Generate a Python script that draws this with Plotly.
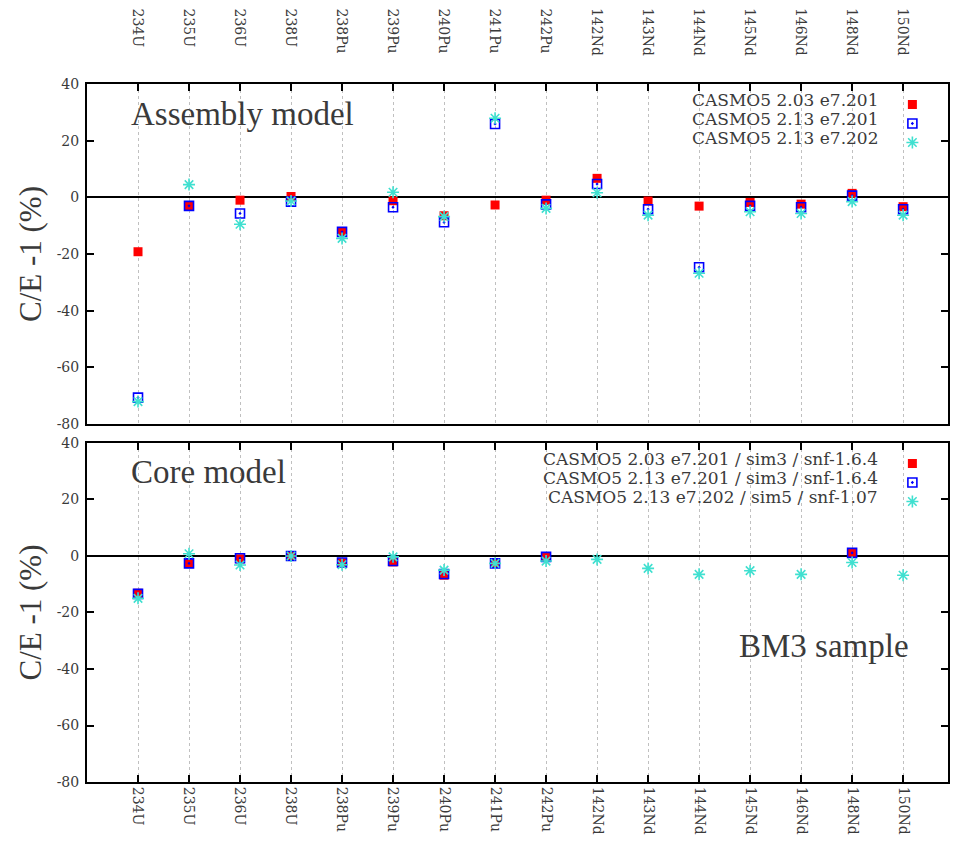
import plotly.graph_objects as go

isotopes = ["234U", "235U", "236U", "238U", "238Pu", "239Pu", "240Pu", "241Pu",
            "242Pu", "142Nd", "143Nd", "144Nd", "145Nd", "146Nd", "148Nd", "150Nd"]
xpos = list(range(len(isotopes)))

# Assembly model (top panel)
asm_names = ["CASMO5 2.03 e7.201", "CASMO5 2.13 e7.201", "CASMO5 2.13 e7.202"]
asm_203_e7201 = [-19.2, -3.1, -1.0, 0.3, -12.4, -1.2, -6.5, -2.7, -1.0, 6.7, -1.3, -3.1, -1.8, -2.4, 1.4, -3.3]
asm_213_e7201 = [-70.7, -3.0, -5.7, -1.5, -12.2, -3.5, -8.8, 25.9, -2.5, 4.7, -4.2, -24.7, -3.0, -3.5, 0.6, -4.2]
asm_213_e7202 = [-72.1, 4.5, -9.5, -1.3, -14.5, 1.8, -6.8, 27.9, -3.9, 1.6, -6.3, -26.8, -5.1, -5.7, -1.5, -6.3]

# Core model (bottom panel)
core_names = ["CASMO5 2.03 e7.201 / sim3 / snf-1.6.4",
              "CASMO5 2.13 e7.201 / sim3 / snf-1.6.4",
              "CASMO5 2.13 e7.202 / sim5 / snf-1.07"]
core_203_e7201 = [-13.2, -2.7, -1.0, 0.0, -2.4, -2.1, -6.8, -2.6, -0.3, None, None, None, None, None, 1.2, None]
core_213_e7201 = [-13.4, -2.6, -0.8, 0.0, -2.3, -1.8, -6.4, -2.6, -0.3, None, None, None, None, None, 1.1, None]
core_213_e7202 = [-15.0, 0.8, -3.2, 0.0, -3.1, -0.3, -5.0, -2.6, -1.8, -1.2, -4.4, -6.5, -5.2, -6.5, -2.3, -6.8]

ytickvals = [-80, -60, -40, -20, 0, 20, 40]
yticktext = ["-80", "-60", "-40", "-20", "0", "20", "40"]

FONT = "Liberation Serif"
TFONT = "DejaVu Serif"
TXT = "#3a3a3a"

styles = [
    dict(symbol="square", size=9, color="#ff0000", line=dict(width=0)),
    dict(symbol="square-open-dot", size=9, color="#0000ff", line=dict(width=1.6, color="#0000ff")),
    dict(symbol="asterisk-open", size=10, color="#40e0d0", line=dict(width=1.6, color="#40e0d0")),
]

fig = go.Figure()
for name, vals, st in zip(asm_names, [asm_203_e7201, asm_213_e7201, asm_213_e7202], styles):
    fig.add_trace(go.Scatter(x=xpos, y=vals, mode="markers", name=name, marker=st,
                             xaxis="x", yaxis="y", legend="legend"))
for name, vals, st in zip(core_names, [core_203_e7201, core_213_e7201, core_213_e7202], styles):
    fig.add_trace(go.Scatter(x=xpos, y=vals, mode="markers", name=name, marker=st,
                             xaxis="x2", yaxis="y2", legend="legend2"))

xrange = [-1, 15.88]
common_x = dict(range=xrange, tickmode="array", tickvals=xpos, showgrid=True,
                griddash="dot", gridcolor="#c0c0c0", gridwidth=1, zeroline=False,
                showline=True, linecolor="black", linewidth=2, ticks="inside",
                ticklen=7, tickwidth=1.5, tickcolor="black", automargin=False,
                tickfont=dict(family=TFONT, size=14, color=TXT))
common_y = dict(range=[-80, 40], tickmode="array", tickvals=ytickvals, ticktext=yticktext,
                showgrid=False, zeroline=True, zerolinecolor="black", zerolinewidth=1.5,
                showline=True, linecolor="black", linewidth=2, ticks="inside",
                ticklen=7, tickwidth=1.5, tickcolor="black", mirror="ticks", automargin=False,
                tickfont=dict(family=TFONT, size=14, color=TXT), ticklabelstandoff=3,
                title=dict(text="C/E -1 (%)", font=dict(family=FONT, size=31, color=TXT), standoff=6))

W, H = 956, 849
ML, MR, MT, MB = 87, 2, 84, 67
top_dom = [0.5129, 1.0]
bot_dom = [0.0, 0.4857]

pw = W - ML - MR
ph = H - MT - MB

def px(xf):
    return (xf - ML) / pw

def py(yf):
    return (H - MB - yf) / ph

fig.update_layout(
    width=W, height=H,
    margin=dict(l=ML, r=MR, t=MT, b=MB),
    paper_bgcolor="white", plot_bgcolor="white",
    showlegend=True,
    xaxis=dict(common_x, domain=[0, 1], anchor="y", side="top", mirror=True,
               showticklabels=False, ticktext=isotopes),
    yaxis=dict(common_y, domain=top_dom, anchor="x"),
    xaxis2=dict(common_x, domain=[0, 1], anchor="y2", side="bottom", mirror="ticks",
                ticktext=isotopes, tickangle=90),
    yaxis2=dict(common_y, domain=bot_dom, anchor="x2"),
    # legends show only the symbols; their texts are right-aligned annotations (gnuplot key style)
    legend=dict(x=px(898), y=py(90), xanchor="left", yanchor="top", bgcolor="rgba(0,0,0,0)",
                font=dict(family=FONT, size=1, color="rgba(0,0,0,0)"), tracegroupgap=0,
                itemwidth=30),
    legend2=dict(x=px(898), y=py(449), xanchor="left", yanchor="top", bgcolor="rgba(0,0,0,0)",
                 font=dict(family=FONT, size=1, color="rgba(0,0,0,0)"), tracegroupgap=0,
                 itemwidth=30),
)

# key texts
for i, name in enumerate(asm_names):
    fig.add_annotation(x=px(886), y=py(100 + 19 * i), xref="paper", yref="paper", text=name,
                       showarrow=False, xanchor="right", yanchor="middle",
                       font=dict(family=TFONT, size=17, color=TXT))
for i, name in enumerate(core_names):
    fig.add_annotation(x=px(886), y=py(459 + 19 * i), xref="paper", yref="paper", text=name,
                       showarrow=False, xanchor="right", yanchor="middle",
                       font=dict(family=TFONT, size=17, color=TXT))

# top tick labels, hanging from the top of the figure (gnuplot style)
for xi, lab in zip(xpos, isotopes):
    fig.add_annotation(x=xi, y=py(6), xref="x", yref="paper", text=lab, textangle=90,
                       showarrow=False, xanchor="center", yanchor="top",
                       font=dict(family=TFONT, size=14, color=TXT))

fig.add_annotation(x=px(129), y=py(114), xref="paper", yref="paper", text="Assembly model",
                   showarrow=False, xanchor="left", yanchor="middle",
                   font=dict(family=FONT, size=33, color=TXT))
fig.add_annotation(x=px(129), y=py(472), xref="paper", yref="paper", text="Core model",
                   showarrow=False, xanchor="left", yanchor="middle",
                   font=dict(family=FONT, size=33, color=TXT))
fig.add_annotation(x=px(917), y=py(646), xref="paper", yref="paper", text="BM3 sample",
                   showarrow=False, xanchor="right", yanchor="middle",
                   font=dict(family=FONT, size=33, color=TXT))

# remove the default body margin and any scrollbars so the 956x849 figure fills the window
fig.write_html(
    "out.html",
    config={"displayModeBar": False},
    post_script=("document.body.style.margin='0px';"
                 "document.body.style.overflow='hidden';"
                 "document.documentElement.style.overflow='hidden';"),
)
